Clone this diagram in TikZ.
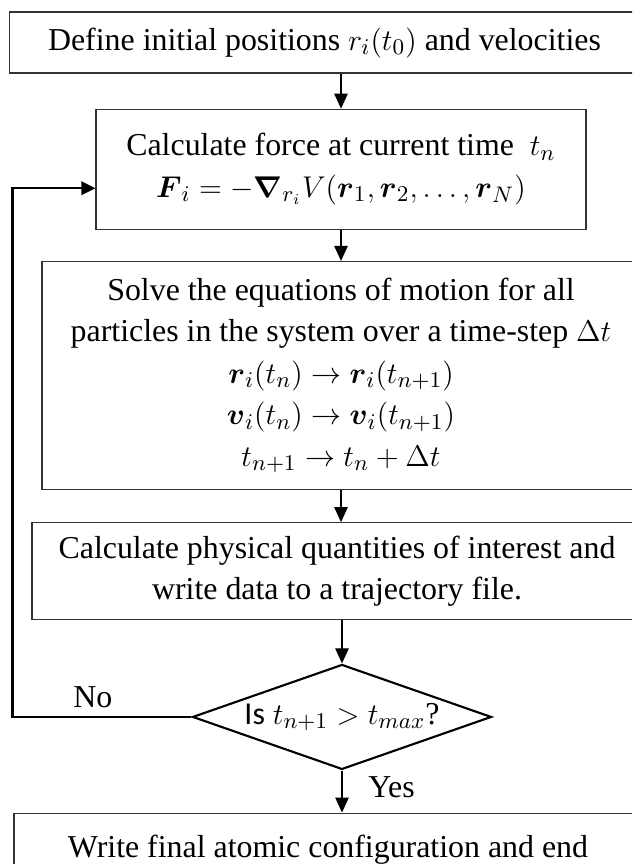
\documentclass[tikz,border=0pt]{standalone}
\usepackage{amsmath}
\usepackage{fontspec}
\setmainfont{Liberation Serif}
\newfontfamily\calibri{Carlito}
\usetikzlibrary{arrows.meta,positioning,shapes.geometric}

\begin{document}
\begin{tikzpicture}[
  font=\fontsize{12.75}{16.6}\selectfont,
  box/.style={draw=black!80, line width=0.5pt, align=center, inner sep=0pt},
  decision/.style={diamond, draw, line width=0.85pt, aspect=2.85, inner sep=0pt, minimum width=119.6pt, minimum height=42pt},
  flow/.style={-{Triangle[length=6pt,width=5.4pt]}, line width=0.45pt},
  loopback/.style={-{Triangle[length=5.6pt,width=5.4pt]}, line width=0.9pt}
]
  \useasboundingbox (0,0) rectangle (252.8pt,-345.6pt);
  \clip (0,0) rectangle (252.8pt,-345.6pt);
  \node[box, minimum width=252pt, minimum height=24.4pt] (define) at (129.8pt,-17pt) {Define initial positions $r_i(t_0)$ and velocities};
  \node[box, minimum width=196pt, minimum height=48pt, below=14pt of define, xshift=6.6pt] (force) {Calculate force at current time \ $t_n$\\$\boldsymbol{F}_i = -\boldsymbol{\nabla}_{r_i} V(\boldsymbol{r}_1, \boldsymbol{r}_2, \ldots, \boldsymbol{r}_N)$};
  \node[box, minimum width=239.2pt, minimum height=91.2pt, below=12.4pt of force] (solve) {Solve the equations of motion for all\\particles in the system over a time-step $\Delta t$\\$\boldsymbol{r}_i(t_n) \rightarrow \boldsymbol{r}_i(t_{n+1})$\\$\boldsymbol{v}_i(t_n) \rightarrow \boldsymbol{v}_i(t_{n+1})$\\$t_{n+1} \rightarrow t_n + \Delta t$};
  \node[box, minimum width=244pt, minimum height=38.8pt, below=12.8pt of solve, xshift=-1.6pt] (measure) {Calculate physical quantities of interest and\\write data to a trajectory file.};
  \node[decision, below=17.2pt of measure, xshift=2pt] (check) {{\calibri Is} $t_{n+1} > t_{max}$?};
  \node[box, minimum width=251.2pt, minimum height=29.6pt, below=16.8pt of check, xshift=-5.6pt] (final) {Write final atomic configuration and end};
  \path (check.west -| define.west) ++(1.4pt,0) coordinate (back);
  \draw[flow] (define.south -| force.north) -- (force.north);
  \draw[flow] (force.south) -- (solve.north);
  \draw[flow] (solve.south) -- (solve.south |- measure.north);
  \draw[flow] (measure.south -| check.north) -- (check.north);
  \draw[flow] (check.south) -- node[right, pos=0.4, xshift=7pt] {Yes} (check.south |- final.north);
  \draw[loopback] (check.west) -- node[above, pos=0.55] {No} (back) |- ([yshift=-7.6pt]force.west);
\end{tikzpicture}
\end{document}
